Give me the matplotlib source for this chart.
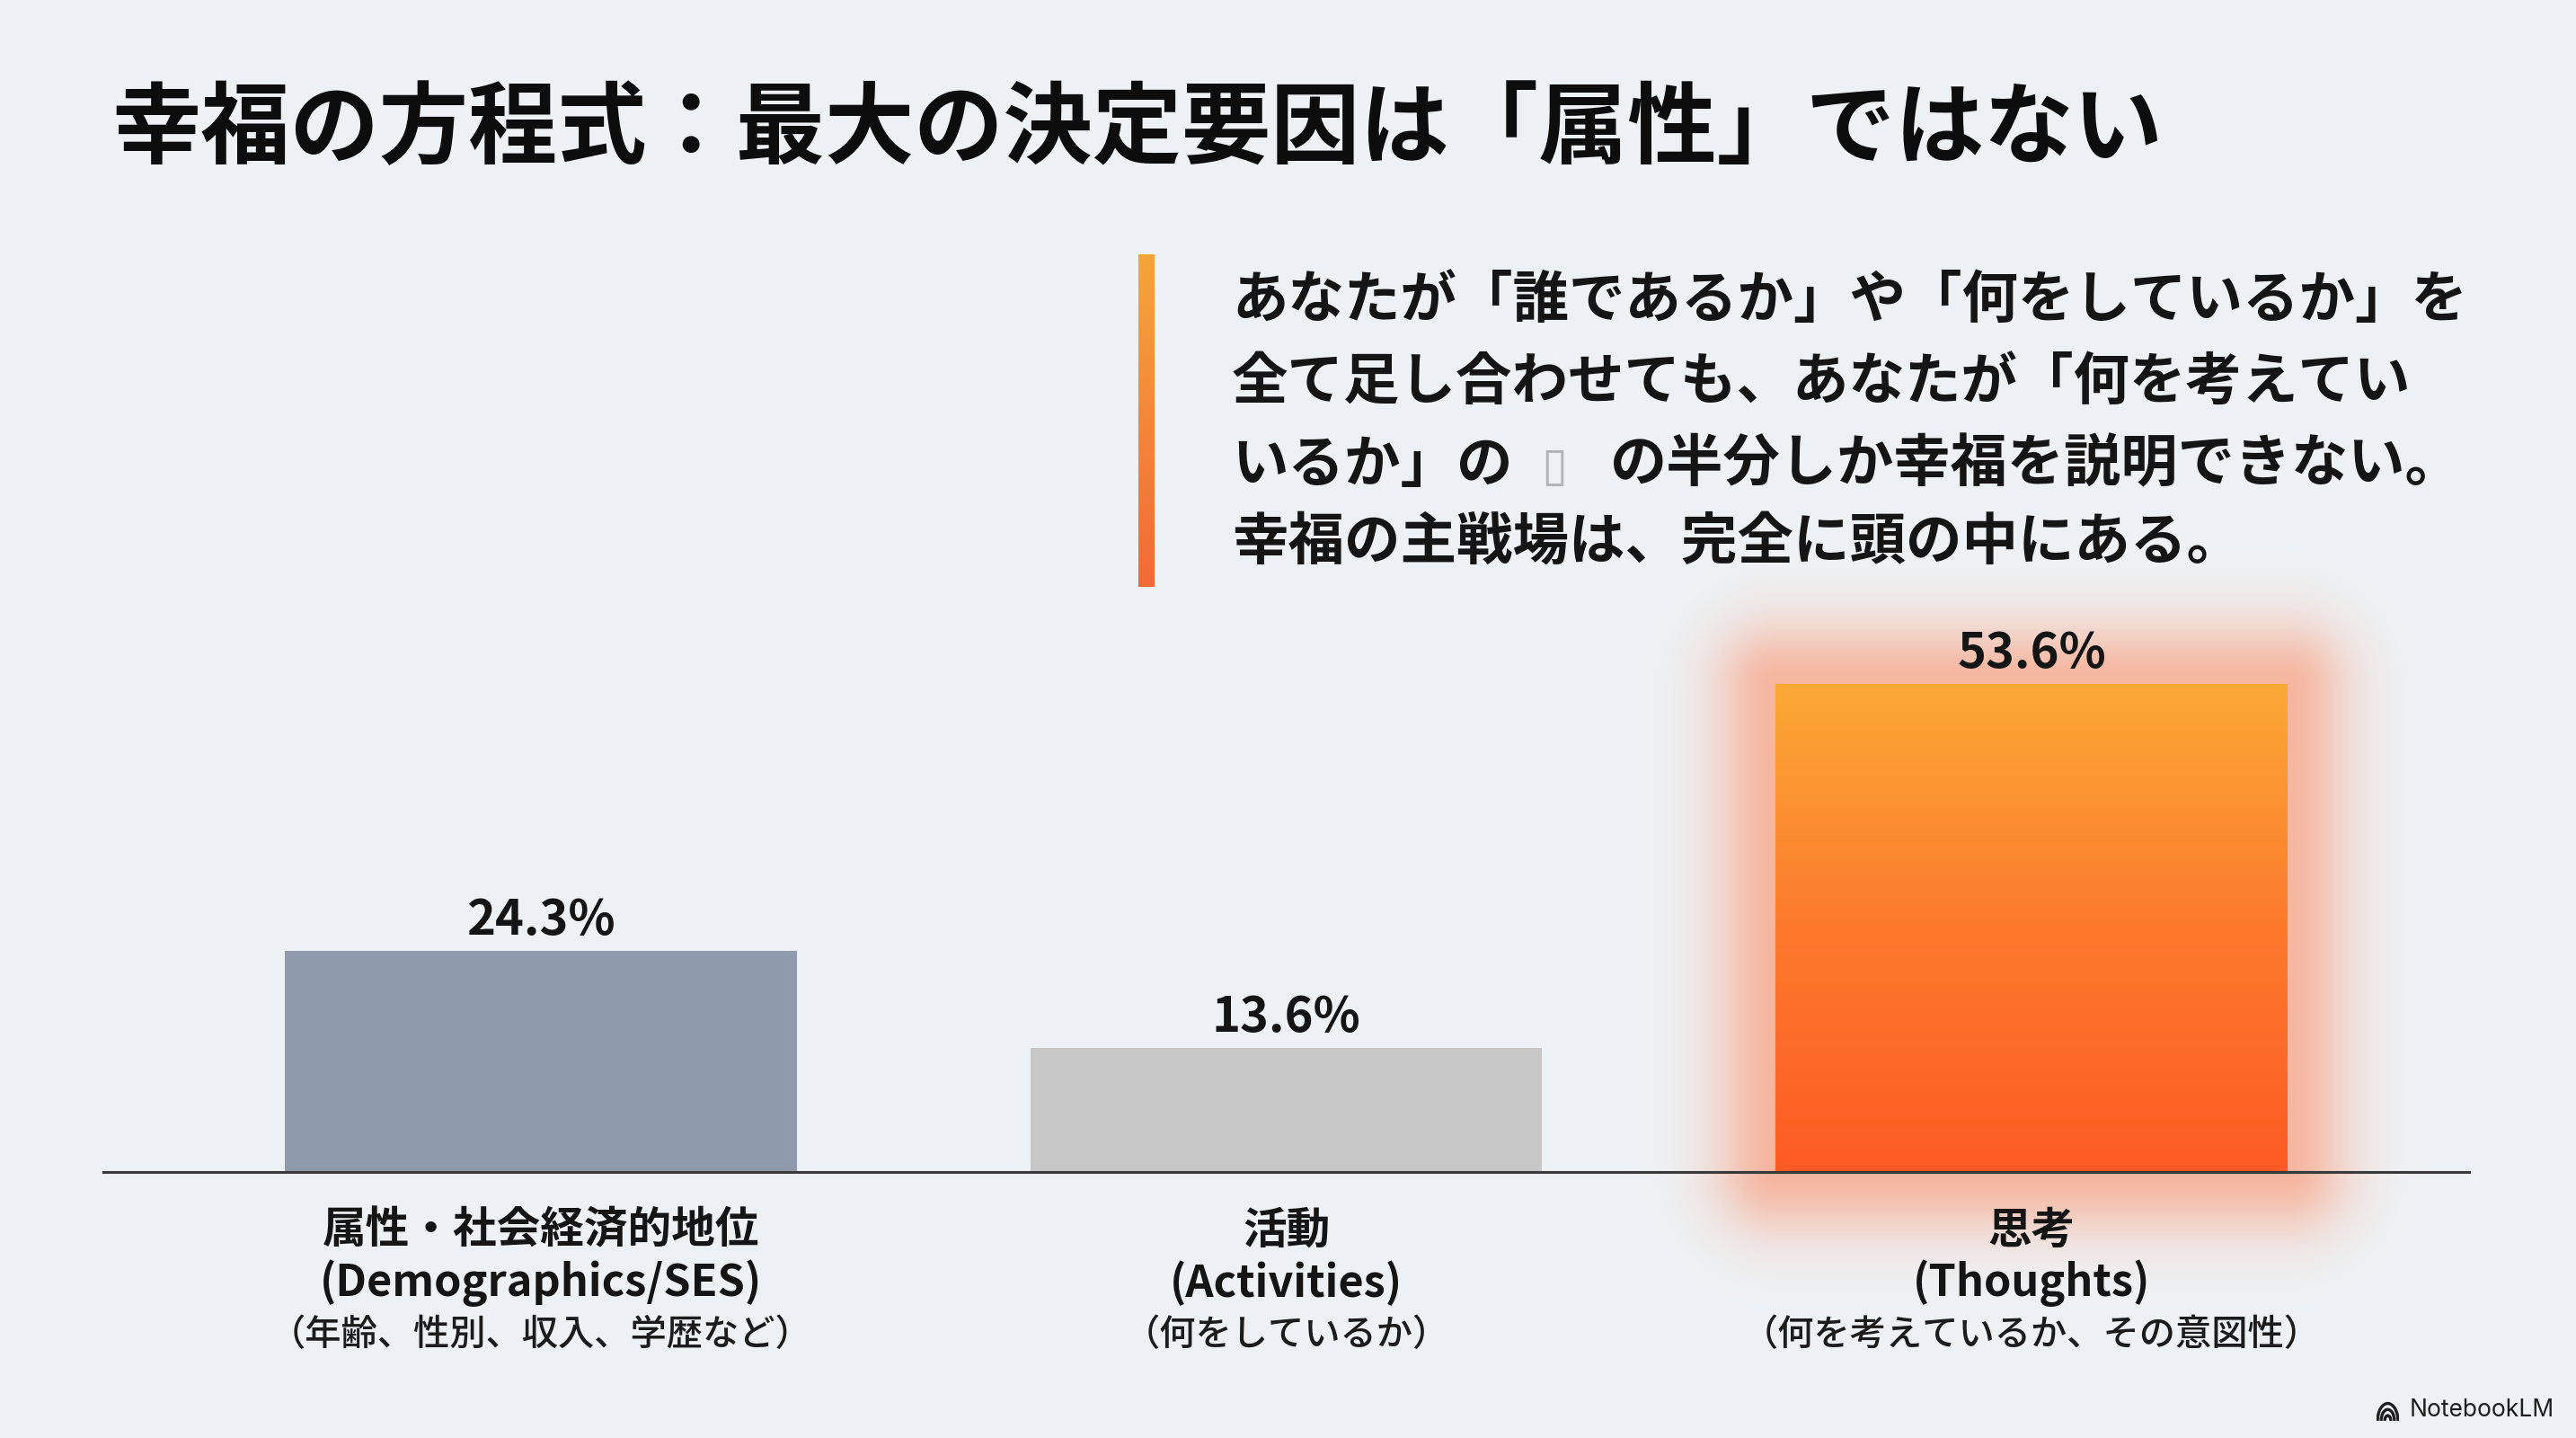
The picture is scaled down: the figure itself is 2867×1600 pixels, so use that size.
import numpy as np
import matplotlib
matplotlib.use('Agg')
import matplotlib.pyplot as plt
from matplotlib.colors import LinearSegmentedColormap
from matplotlib.patches import Arc

plt.rcParams['font.family'] = ['Noto Sans CJK JP', 'DejaVu Sans']

# data
categories = ['属性・社会経済的地位', '活動', '思考']
categories_en = ['(Demographics/SES)', '(Activities)', '(Thoughts)']
categories_note = ['（年齢、性別、収入、学歴など）', '（何をしているか）', '（何を考えているか、その意図性）']
values = [24.3, 13.6, 53.6]

title = '幸福の方程式：最大の決定要因は「属性」ではない'
message = ['あなたが「誰であるか」や「何をしているか」を',
           '全て足し合わせても、あなたが「何を考えてい',
           'いるか」の',
           '幸福の主戦場は、完全に頭の中にある。']
message_3b = 'の半分しか幸福を説明できない。'

bg = '#EEF1F3'
bar_colors = ['#8F9BAA', '#C7C7C7', '#FC8A2E']
text_dark = '#151515'

W, H = 2867, 1600
fig = plt.figure(figsize=(W / 100, H / 100), dpi=100, facecolor=bg)

# main axes
ax = fig.add_axes([115 / W, 1 - 1304 / H, 2633 / W, 60 * 10.13 / H])
ax.set_facecolor('none')
x = np.arange(len(values))
ax.set_xlim(-0.587, 2.587)
ax.set_ylim(0, 60)
bars = ax.bar(x, values, width=0.687, color=bar_colors, zorder=3)

for s in ['top', 'right', 'left']:
    ax.spines[s].set_visible(False)
ax.spines['bottom'].set_color('#3a3a3a')
ax.spines['bottom'].set_linewidth(2.2)
ax.spines['bottom'].set_zorder(5)
ax.set_xticks([])
ax.set_yticks([])

# pixel scale of the data units
p0 = ax.transData.transform((0, 0))
sx = ax.transData.transform((1, 0))[0] - p0[0]
sy = ax.transData.transform((0, 1))[1] - p0[1]

# soft glow + gradient on the highlighted bar
hb = bars[2]
bl, bw, bh = hb.get_x(), hb.get_width(), hb.get_height()
gx = np.linspace(bl - 0.27, bl + bw + 0.27, 360)
gy = np.linspace(-20, bh + 20, 480)
GX, GY = np.meshgrid(gx, gy)
dx = np.maximum(np.maximum(bl - GX, GX - (bl + bw)), 0) * sx
dy = np.maximum(np.maximum(0 - GY, GY - bh), 0) * sy
d = np.hypot(dx, dy)
glow = np.zeros(GX.shape + (4,))
glow[..., 0] = 1.0
glow[..., 1] = 0.46
glow[..., 2] = 0.27
glow[..., 3] = 0.48 * np.exp(-(d / 68.0) ** 2)
ax.imshow(glow, extent=(gx[0], gx[-1], gy[0], gy[-1]), origin='lower',
          aspect='auto', zorder=2, clip_on=False, interpolation='bilinear')

cmap = LinearSegmentedColormap.from_list('hot', ['#FD5B23', '#FC7A2C', '#FBA936'])
grad = np.linspace(0, 1, 256).reshape(-1, 1)
im = ax.imshow(grad, extent=(bl, bl + bw, 0, bh), origin='lower', cmap=cmap,
               aspect='auto', zorder=4)
im.set_clip_path(hb)
ax.set_xlim(-0.587, 2.587)
ax.set_ylim(0, 60)

# value labels
for xi, v in zip(x, values):
    ax.annotate(f'{v}%', (xi, v), xytext=(0, 13), textcoords='offset points',
                ha='center', va='baseline', fontsize=39, fontweight='bold',
                color=text_dark, zorder=6)

# category labels
for xi, c, e, n in zip(x, categories, categories_en, categories_note):
    ax.annotate(c, (xi, 0), xytext=(0, -47), textcoords='offset points',
                ha='center', va='center', fontsize=35, fontweight='bold',
                color=text_dark, annotation_clip=False)
    ax.annotate(e, (xi, 0), xytext=(0, -89), textcoords='offset points',
                ha='center', va='center', fontsize=35, fontweight='bold',
                color=text_dark, annotation_clip=False)
    ax.annotate(n, (xi, 0), xytext=(0, -131), textcoords='offset points',
                ha='center', va='center', fontsize=29, fontweight='medium',
                color='#1c1c1c', annotation_clip=False)

# title
fig.text(124 / W, 1 - 145 / H, title, fontsize=71.5, fontweight='bold',
         color='#0d0d0d', ha='left', va='center')

# accent bar beside the message
acc = fig.add_axes([1267 / W, 1 - 653 / H, 18 / W, 370 / H])
acc_cmap = LinearSegmentedColormap.from_list('acc', ['#F26A36', '#F5A53A'])
acc.imshow(np.linspace(0, 1, 256).reshape(-1, 1), origin='lower', cmap=acc_cmap,
           aspect='auto', extent=(0, 1, 0, 1))
acc.axis('off')

# message text
line_y = [335, 426, 517, 603]
for txt, yy in zip(message, line_y):
    fig.text(1371 / W, 1 - yy / H, txt, fontsize=45, fontweight='bold',
             color=text_dark, ha='left', va='center')
fig.text(1730 / W, 1 - 520 / H, '▯', fontsize=38, color='#B0B4B8',
         family=['DejaVu Sans'], ha='center', va='center')
fig.text(1792 / W, 1 - 517 / H, message_3b, fontsize=45.5, fontweight='bold',
         color=text_dark, ha='left', va='center')

# watermark
fig.text(2843 / W, 1 - 1569 / H, 'NotebookLM', fontsize=19, color='#1f1f1f',
         family=['Inter', 'DejaVu Sans'], ha='right', va='center')
logo = fig.add_axes([2645 / W, 1 - 1582 / H, 25 / W, 25 / H])
logo.set_xlim(-1.1, 1.1)
logo.set_ylim(-1.0, 1.2)
for r in [2.0, 1.3, 0.6]:
    logo.add_patch(Arc((0, -0.9), r, r * 1.7, theta1=0, theta2=180,
                       color='#1f1f1f', lw=2.4))
logo.axis('off')

fig.savefig('out.png', dpi=100, facecolor=bg)
